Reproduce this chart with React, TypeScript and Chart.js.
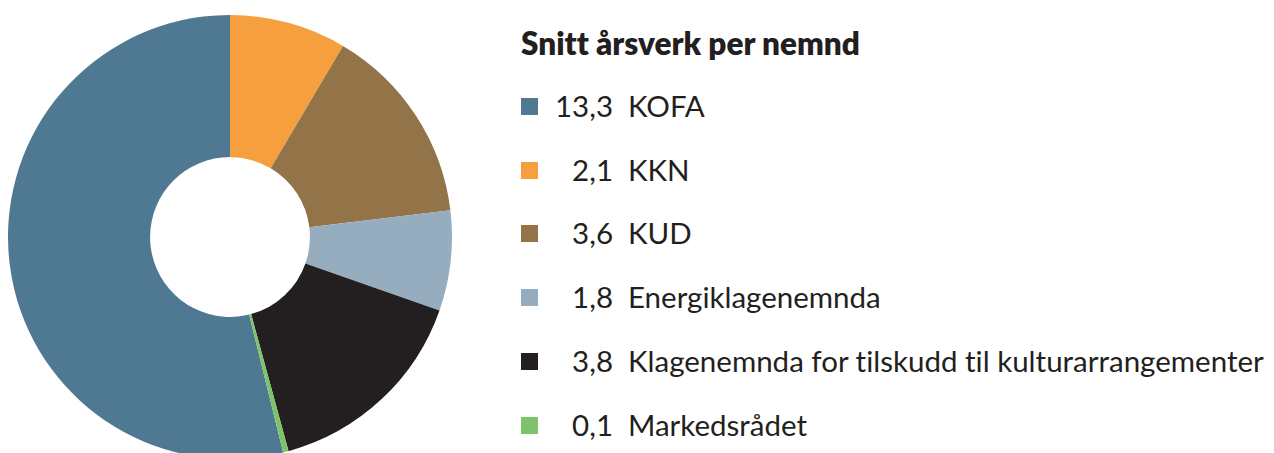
import React, { useEffect, useRef } from "react";
import { Chart, registerables } from "chart.js";

Chart.register(...registerables);

const title = "Snitt årsverk per nemnd";
const labels = [
  "KOFA",
  "KKN",
  "KUD",
  "Energiklagenemnda",
  "Klagenemnda for tilskudd til kulturarrangementer",
  "Markedsrådet",
];
const values = [13.3, 2.1, 3.6, 1.8, 3.8, 0.1];
const valueLabels = ["13,3", "2,1", "3,6", "1,8", "3,8", "0,1"];
const colors = ["#4f7893", "#f69f3f", "#937348", "#96adc0", "#231f20", "#7dc36b"];

export default function App() {
  const ref = useRef<HTMLCanvasElement | null>(null);

  useEffect(() => {
    if (!ref.current) return;
    const total = values.reduce((a, b) => a + b, 0);
    const chart = new Chart(ref.current, {
      type: "doughnut",
      data: {
        labels,
        datasets: [
          {
            data: values,
            backgroundColor: colors,
            borderWidth: 0,
          },
        ],
      },
      options: {
        animation: false,
        responsive: true,
        maintainAspectRatio: false,
        cutout: "36%",
        rotation: -(values[0] / total) * 360,
        layout: { padding: 0 },
        plugins: {
          legend: { display: false },
          tooltip: { enabled: false },
        },
      },
    });
    return () => chart.destroy();
  }, []);

  const font = "Lato, 'Open Sans', sans-serif";
  const rowTop = 106;
  const rowStep = 63.7;
  const textSize = 29.5;

  return (
    <div
      style={{
        position: "fixed",
        left: 0,
        top: 0,
        width: 1274,
        height: 453,
        overflow: "hidden",
        background: "#ffffff",
      }}
    >
      <div style={{ position: "absolute", left: 7.5, top: 14.5, width: 444, height: 444 }}>
        <canvas ref={ref} />
      </div>
      <div
        style={{
          position: "absolute",
          left: 521,
          top: 44,
          transform: "translateY(-50%)",
          fontFamily: font,
          fontWeight: 800,
          fontSize: 31.5,
          color: "#231f20",
          whiteSpace: "nowrap",
          lineHeight: 1,
          fontVariantLigatures: "none",
        }}
      >
        {title}
      </div>
      {labels.map((lab, i) => {
        const cy = rowTop + i * rowStep;
        return (
          <React.Fragment key={lab}>
            <div
              style={{
                position: "absolute",
                left: 521,
                top: cy - 8,
                width: 17,
                height: 17,
                background: colors[i],
              }}
            />
            <div
              style={{
                position: "absolute",
                left: 540,
                width: 73,
                top: cy,
                transform: "translateY(-50%)",
                textAlign: "right",
                fontFamily: font,
                fontSize: textSize,
                color: "#231f20",
                lineHeight: 1,
                whiteSpace: "nowrap",
              }}
            >
              {valueLabels[i]}
            </div>
            <div
              style={{
                position: "absolute",
                left: 628,
                top: cy,
                transform: "translateY(-50%)",
                fontFamily: font,
                fontSize: textSize,
                color: "#231f20",
                lineHeight: 1,
                whiteSpace: "nowrap",
                fontVariantLigatures: "none",
              }}
            >
              {lab}
            </div>
          </React.Fragment>
        );
      })}
    </div>
  );
}
